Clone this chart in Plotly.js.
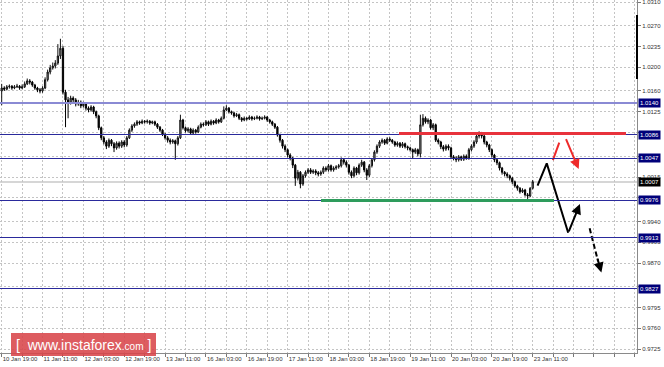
<!DOCTYPE html>
<html>
<head>
<meta charset="utf-8">
<script src="https://cdn.plot.ly/plotly-3.0.1.min.js"></script>
<style>html,body{margin:0;padding:0;background:#fff;}#chart{width:664px;height:367px;}
#chart .shapelayer path{shape-rendering:crispEdges;}</style>
</head>
<body>
<div id="chart"></div>
<script>
// Candle values in pips above 1.0000 (price = 1 + v/10000)
const openPips = [160,165,163,167,168,165,167,168,165,167,
172,177,175,170,165,162,160,165,179,192,
199,202,207,219,232,158,145,141,148,145,
138,141,135,138,131,128,133,125,118,98,
81,74,67,77,71,64,72,67,74,69,
81,94,101,104,108,106,109,108,109,106,
108,104,99,94,87,81,77,74,76,71,
81,111,98,93,96,89,94,91,99,104,
103,108,104,109,106,111,108,114,128,131,
125,123,118,120,114,111,114,113,116,113,
114,116,113,114,116,111,108,104,99,86,
77,67,61,52,47,35,13,23,3,17,
23,27,23,25,22,20,23,30,27,34,
27,30,32,34,44,40,35,23,17,30,
22,35,40,27,18,34,44,57,67,74,
77,72,79,77,74,69,72,67,71,66,
64,61,57,61,54,103,114,108,111,98,
103,77,74,66,62,67,64,49,47,44,
49,45,50,47,61,67,74,84,87,84,
74,69,61,52,44,39,30,23,20,17,
13,7,0,-4,-10,-7,-15,-17,-4];
const highPips = [172,168,170,171,170,170,172,170,171,176,
181,180,177,172,167,165,168,183,196,204,
208,212,239,248,236,162,150,152,151,148,
145,144,142,140,134,136,135,127,120,100,
84,77,80,79,74,75,75,77,77,84,
97,104,107,111,110,112,111,112,111,110,
110,106,101,96,89,84,80,79,78,84,
120,113,100,99,98,97,96,102,107,107,
111,110,112,111,114,113,117,134,136,133,
127,125,123,122,116,117,116,119,118,117,
119,118,117,119,118,113,110,106,101,88,
79,70,63,55,49,37,27,25,20,26,
30,30,28,28,25,26,33,33,37,36,
33,35,37,48,47,43,37,26,33,32,
38,44,42,30,37,47,60,70,77,80,
79,82,82,79,76,75,74,74,73,68,
66,63,64,63,120,121,117,114,113,106,
105,80,76,69,70,70,66,52,50,52,
51,53,53,64,70,77,88,92,91,86,
76,71,63,54,46,41,32,25,23,19,
15,9,2,-2,-4,-5,-12,-2,10];
const lowPips = [136,160,161,164,162,163,165,162,163,165,
170,171,167,162,158,156,157,163,176,188,
196,198,204,214,154,99,114,137,140,134,
135,131,132,127,124,125,121,114,94,77,
70,62,64,67,57,61,63,64,65,66,
79,91,98,101,103,104,105,105,103,104,
101,96,91,84,78,73,70,71,44,68,
79,95,90,90,86,87,88,89,97,100,
101,101,102,103,104,105,106,112,126,122,
120,115,116,111,108,109,110,111,110,111,
112,110,111,112,108,105,101,96,83,73,
63,57,48,43,30,0,9,-4,0,14,
20,20,20,18,16,17,20,24,24,24,
24,27,29,31,36,31,19,13,14,18,
19,32,23,10,15,31,41,54,64,71,
69,70,74,71,66,66,64,64,63,60,
58,46,54,50,48,100,105,104,95,94,
74,70,62,58,59,60,45,43,40,41,
42,42,44,44,58,64,71,80,80,70,
65,57,48,40,35,26,19,16,13,9,
3,-3,-8,-13,-12,-18,-22,-19,-6];
const closePips = [165,163,167,168,165,167,168,165,167,172,
177,175,170,165,162,160,165,179,192,199,
202,207,219,232,158,145,141,148,145,138,
141,135,138,131,128,133,125,118,98,81,
74,67,77,71,64,72,67,74,69,81,
94,101,104,108,106,109,108,109,106,108,
104,99,94,87,81,77,74,76,71,81,
111,98,93,96,89,94,91,99,104,103,
108,104,109,106,111,108,114,128,131,125,
123,118,120,114,111,114,113,116,113,114,
116,113,114,116,111,108,104,99,86,77,
67,61,52,47,35,13,23,3,17,23,
27,23,25,22,20,23,30,27,34,27,
30,32,34,44,40,35,23,17,30,22,
35,40,27,18,34,44,57,67,74,77,
72,79,77,74,69,72,67,71,66,64,
61,57,61,54,103,114,108,111,98,103,
77,74,66,62,67,64,49,47,44,49,
45,50,47,61,67,74,84,87,84,74,
69,61,52,44,39,30,23,20,17,13,
7,0,-4,-10,-7,-15,-17,-4,7];

// x-axis labels (every 16 hourly candles)
const xTickLabels = ["10 Jan 19:00","11 Jan 11:00","12 Jan 03:00","12 Jan 19:00","13 Jan 11:00",
  "16 Jan 03:00","16 Jan 19:00","17 Jan 11:00","18 Jan 03:00","18 Jan 19:00",
  "19 Jan 11:00","20 Jan 03:00","20 Jan 19:00","23 Jan 11:00"];

// y-axis ticks
const yTickVals = [1.0310,1.0270,1.0235,1.0200,1.0160,1.0125,1.0090,1.0050,1.0015,0.9980,0.9940,0.9905,0.9870,0.9830,0.9795,0.9760,0.9725];
const yTickText = ["1.0310","1.0270","1.0235","1.0200","1.0160","1.0125","","","1.0015","","0.9940","0.9905","0.9870","","0.9795","0.9760","0.9725"];

// horizontal levels
const levels = [1.0140, 1.0086, 1.0047, 0.9976, 0.9913, 0.9827];
const currentPrice = 1.0007;
const resistance = {x0: 155.6, x1: 244.4, y: 1.00885};
const support = {x0: 125.1, x1: 216.4, y: 0.99755};

// forecast drawings (candle index, price)
const blackPathX = [209.9, 213.5, 221.9];
const blackPathY = [1.00003, 1.0038, 0.9921];
const blackArrow = {ax: 221.9, ay: 0.9921, x: 226.5, y: 0.99694};
const redTickX = [215.9, 218.4];
const redTickY = [1.00436, 1.00728];
const redArrow = {ax: 220.8, ay: 1.00812, x: 226.0, y: 1.00284};
const dashX = [230.3, 233.6];
const dashY = [0.99285, 0.9873];
const dashArrow = {ax: 233.2, ay: 0.9880, x: 234.9, y: 0.9854};

const toPrice = v => 1 + v / 10000;
const idx = closePips.map((_, i) => i);

const tickVals = [], tickText = [];
for (let k = 0; k <= 31; k++) {
  tickVals.push(k * 8);
  tickText.push(k % 2 === 0 && xTickLabels[k / 2] ? xTickLabels[k / 2] : "");
}

const traces = [
  {
    type: 'candlestick', x: idx,
    open: openPips.map(toPrice), high: highPips.map(toPrice),
    low: lowPips.map(toPrice), close: closePips.map(toPrice),
    increasing: {line: {color: '#111', width: 1}, fillcolor: '#a8a8a8'},
    decreasing: {line: {color: '#000', width: 1}, fillcolor: '#000'},
    whiskerwidth: 0, hoverinfo: 'skip', showlegend: false
  },
  {type: 'scatter', mode: 'lines', x: blackPathX, y: blackPathY,
   line: {color: '#000', width: 2}, hoverinfo: 'skip', showlegend: false},
  {type: 'scatter', mode: 'lines', x: redTickX, y: redTickY,
   line: {color: '#ee2a2a', width: 2}, hoverinfo: 'skip', showlegend: false},
  {type: 'scatter', mode: 'lines', x: dashX, y: dashY,
   line: {color: '#000', width: 2, dash: '5px,3px'}, hoverinfo: 'skip', showlegend: false}
];

const shapes = [
  {type: 'line', xref: 'paper', x0: 0, x1: 1, yref: 'y', y0: currentPrice, y1: currentPrice,
   line: {color: '#d6d6d6', width: 2}, layer: 'below'}
];
levels.forEach((lv, i) => {
  shapes.push({type: 'line', xref: 'paper', x0: 0, x1: 1, yref: 'y', y0: lv, y1: lv,
    line: {color: i === 0 ? '#8a8ad4' : '#2a2a9c', width: i === 0 ? 2 : 1}});
});
shapes.push({type: 'line', xref: 'x', x0: resistance.x0, x1: resistance.x1, yref: 'y',
  y0: resistance.y, y1: resistance.y, line: {color: '#e8323c', width: 3}});
shapes.push({type: 'line', xref: 'x', x0: support.x0, x1: support.x1, yref: 'y',
  y0: support.y, y1: support.y, line: {color: '#2e9c5c', width: 2.5}});
shapes.push({type: 'line', xref: 'paper', x0: 1, x1: 1, yref: 'y', y0: 1.0288, y1: 1.0180,
  line: {color: '#000', width: 2}});
shapes.push({type: 'rect', xref: 'paper', yref: 'paper', x0: 0.0168, x1: 0.2449, y0: -0.009, y1: 0.057,
  fillcolor: 'rgba(216,70,74,0.88)', line: {width: 0}});

const annotations = [];
levels.forEach(lv => {
  annotations.push({xref: 'paper', x: 1, xanchor: 'left', xshift: 1, yref: 'y', y: lv,
    text: lv.toFixed(4), showarrow: false, bgcolor: '#00007a', borderpad: 1,
    font: {family: 'Liberation Sans, Arial, sans-serif', size: 6, color: '#fff'}});
});
annotations.push({xref: 'paper', x: 1, xanchor: 'left', xshift: 1, yref: 'y', y: currentPrice,
  text: currentPrice.toFixed(4), showarrow: false, bgcolor: '#000', borderpad: 1,
  font: {family: 'Liberation Sans, Arial, sans-serif', size: 6, color: '#fff'}});
[[blackArrow, '#000'], [redArrow, '#ee2a2a'], [dashArrow, '#000']].forEach(([a, col]) => {
  annotations.push({x: a.x, y: a.y, ax: a.ax, ay: a.ay, xref: 'x', yref: 'y', axref: 'x', ayref: 'y',
    text: '', showarrow: true, arrowhead: 2, arrowsize: 1, arrowwidth: 2, arrowcolor: col});
});
annotations.push({xref: 'paper', yref: 'paper', x: 0.131, y: 0.024, xanchor: 'center', yanchor: 'middle',
  text: "[&nbsp;&nbsp;www.instaforex<span style='font-size:10px'>.com</span>&nbsp;]", showarrow: false,
  font: {family: 'Liberation Sans, Arial, sans-serif', size: 14, color: '#fff'}});

const layout = {
  width: 664, height: 367,
  margin: {l: 0, r: 27, t: 0, b: 14, pad: 0},
  paper_bgcolor: '#fff', plot_bgcolor: '#fff',
  showlegend: false,
  xaxis: {
    range: [-0.666, 248.85], tickmode: 'array', tickvals: tickVals, ticktext: tickText,
    tickangle: 0, automargin: false,
    showgrid: true, gridcolor: '#c4c4c4', griddash: '2px,2px', gridwidth: 1,
    zeroline: false, showline: true, linecolor: '#8a8a8a', linewidth: 1,
    ticks: 'outside', ticklen: 3, tickcolor: '#777',
    ticklabelposition: 'outside right', ticklabeloverflow: 'allow',
    tickfont: {family: 'Liberation Sans, Arial, sans-serif', size: 6, color: '#333'},
    rangeslider: {visible: false}, fixedrange: true
  },
  yaxis: {
    side: 'right', range: [0.97183, 1.031337], tickmode: 'array', tickvals: yTickVals, ticktext: yTickText,
    automargin: false, ticklabeloverflow: 'allow',
    showgrid: true, gridcolor: '#c4c4c4', griddash: '2px,2px', gridwidth: 1,
    zeroline: false, showline: true, linecolor: '#8a8a8a', linewidth: 1,
    ticks: 'outside', ticklen: 3, tickcolor: '#777',
    tickfont: {family: 'Liberation Sans, Arial, sans-serif', size: 6, color: '#333'},
    fixedrange: true
  },
  shapes: shapes,
  annotations: annotations
};

Plotly.newPlot('chart', traces, layout, {displayModeBar: false, staticPlot: true});
</script>
</body>
</html>
